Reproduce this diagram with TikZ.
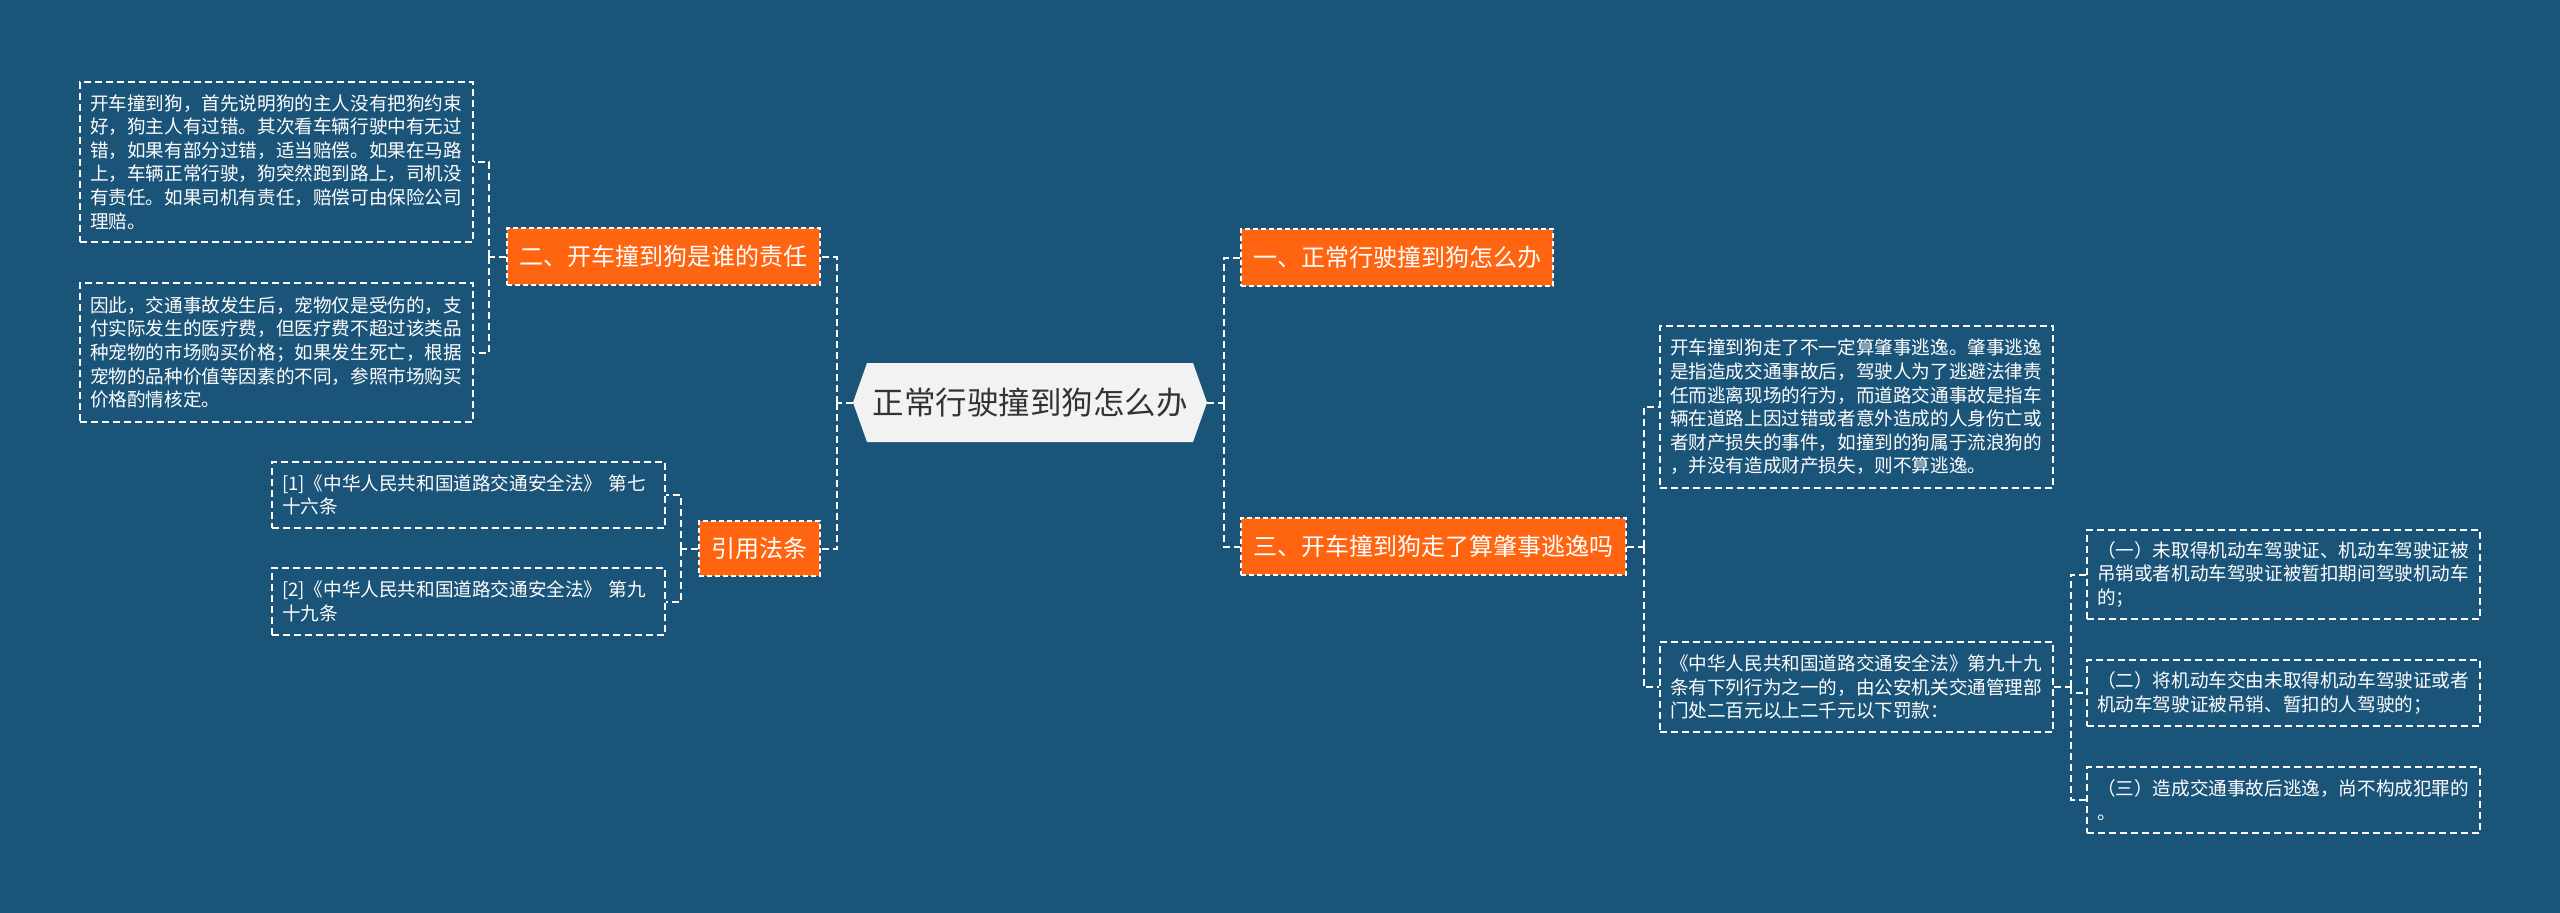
\documentclass[tikz,border=0pt]{standalone}
\usepackage{fontspec}
\setmainfont{Noto Sans CJK SC}
\definecolor{bgblue}{HTML}{1B5479}
\definecolor{orgfill}{HTML}{FF6410}
\definecolor{cfill}{HTML}{F2F2F2}
\definecolor{ctext}{HTML}{333333}
\tikzset{
  leaf/.style={draw=white, line width=1.4pt, dash pattern=on 7pt off 4pt, text=white,
    font=\fontsize{18.6}{23.6}\selectfont, align=left, inner sep=0pt, minimum width=393pt},
  topic/.style={fill=orgfill, draw=white, line width=1.2pt, dash pattern=on 5pt off 3pt,
    text=white, font=\fontsize{24}{28}\selectfont, inner sep=0pt, minimum height=57pt},
  conn/.style={draw=white, line width=2pt, dash pattern=on 7pt off 4pt},
}
\begin{document}
\begin{tikzpicture}[x=1pt,y=-1pt]
\useasboundingbox (0,0) rectangle (2560,913);
\fill[bgblue] (0,0) rectangle (2560,913);

% central hexagon
\fill[cfill] (853,402.5) -- (867,363) -- (1193,363) -- (1207,402.5) -- (1193,442) -- (867,442) -- cycle;
\node[inner sep=0pt, minimum width=354pt, minimum height=79pt, text=ctext,
  font=\fontsize{31.5}{36}\selectfont] (c) at (1030,402.5) {正常行驶撞到狗怎么办};

% topics
\node[topic, minimum width=313pt] (n2) at (663.5,256.5) {二、开车撞到狗是谁的责任};
\node[topic, minimum width=121pt, minimum height=55pt] (ny) at (759.5,548.5) {引用法条};
\node[topic, minimum width=312pt] (n1) at (1397,257.5) {一、正常行驶撞到狗怎么办};
\node[topic, minimum width=385pt] (n3) at (1433.5,546.5) {三、开车撞到狗走了算肇事逃逸吗};

% leaves
\node[leaf, text width=373pt, minimum height=160pt] (A) at (276.5,162) {开车撞到狗，首先说明狗的主人没有把狗约束\\
好，狗主人有过错。其次看车辆行驶中有无过\\
错，如果有部分过错，适当赔偿。如果在马路\\
上，车辆正常行驶，狗突然跑到路上，司机没\\
有责任。如果司机有责任，赔偿可由保险公司\\
理赔。};
\node[leaf, text width=373pt, minimum height=139pt] (B) at (276.5,352.5) {因此，交通事故发生后，宠物仅是受伤的，支\\
付实际发生的医疗费，但医疗费不超过该类品\\
种宠物的市场购买价格；如果发生死亡，根据\\
宠物的品种价值等因素的不同，参照市场购买\\
价格酌情核定。};
\node[leaf, text width=373pt, minimum height=66pt] (C) at (468.5,495) {[1]《中华人民共和国道路交通安全法》 第七\\
十六条};
\node[leaf, text width=373pt, minimum height=67pt] (D) at (468.5,601.5) {[2]《中华人民共和国道路交通安全法》 第九\\
十九条};
\node[leaf, text width=373pt, minimum height=162pt] (E) at (1856.5,407) {开车撞到狗走了不一定算肇事逃逸。肇事逃逸\\
是指造成交通事故后，驾驶人为了逃避法律责\\
任而逃离现场的行为，而道路交通事故是指车\\
辆在道路上因过错或者意外造成的人身伤亡或\\
者财产损失的事件，如撞到的狗属于流浪狗的\\
，并没有造成财产损失，则不算逃逸。};
\node[leaf, text width=373pt, minimum height=90pt] (F) at (1856.5,687) {《中华人民共和国道路交通安全法》第九十九\\
条有下列行为之一的，由公安机关交通管理部\\
门处二百元以上二千元以下罚款：};
\node[leaf, text width=373pt, minimum height=89pt] (G) at (2283.5,574.5) {（一）未取得机动车驾驶证、机动车驾驶证被\\
吊销或者机动车驾驶证被暂扣期间驾驶机动车\\
的；};
\node[leaf, text width=373pt, minimum height=66pt] (H) at (2283.5,693) {（二）将机动车交由未取得机动车驾驶证或者\\
机动车驾驶证被吊销、暂扣的人驾驶的；};
\node[leaf, text width=373pt, minimum height=66pt] (I) at (2283.5,800) {（三）造成交通事故后逃逸，尚不构成犯罪的\\
。};

% connectors
\draw[conn] (c.west) -- ++(-16,0) coordinate (lm);
\draw[conn] (lm) |- (n2.east);
\draw[conn] (lm) |- (ny.east);
\draw[conn] (c.east) -- ++(17,0) coordinate (rm);
\draw[conn] (rm) |- (n1.west);
\draw[conn] (rm) |- (n3.west);
\draw[conn] (n2.west) -- ++(-17,0) coordinate (l2);
\draw[conn] (l2) |- (A.east);
\draw[conn] (l2) |- (B.east);
\draw[conn] (ny.west) -- ++(-17,0) coordinate (ly);
\draw[conn] (ly) |- (C.east);
\draw[conn] (ly) |- (D.east);
\draw[conn] (n3.east) -- ++(17,0) coordinate (r3);
\draw[conn] (r3) |- (E.west);
\draw[conn] (r3) |- (F.west);
\draw[conn] (F.east) -- ++(17,0) coordinate (rf);
\draw[conn] (rf) |- (G.west);
\draw[conn] (rf) |- (H.west);
\draw[conn] (rf) |- (I.west);
\end{tikzpicture}
\end{document}
